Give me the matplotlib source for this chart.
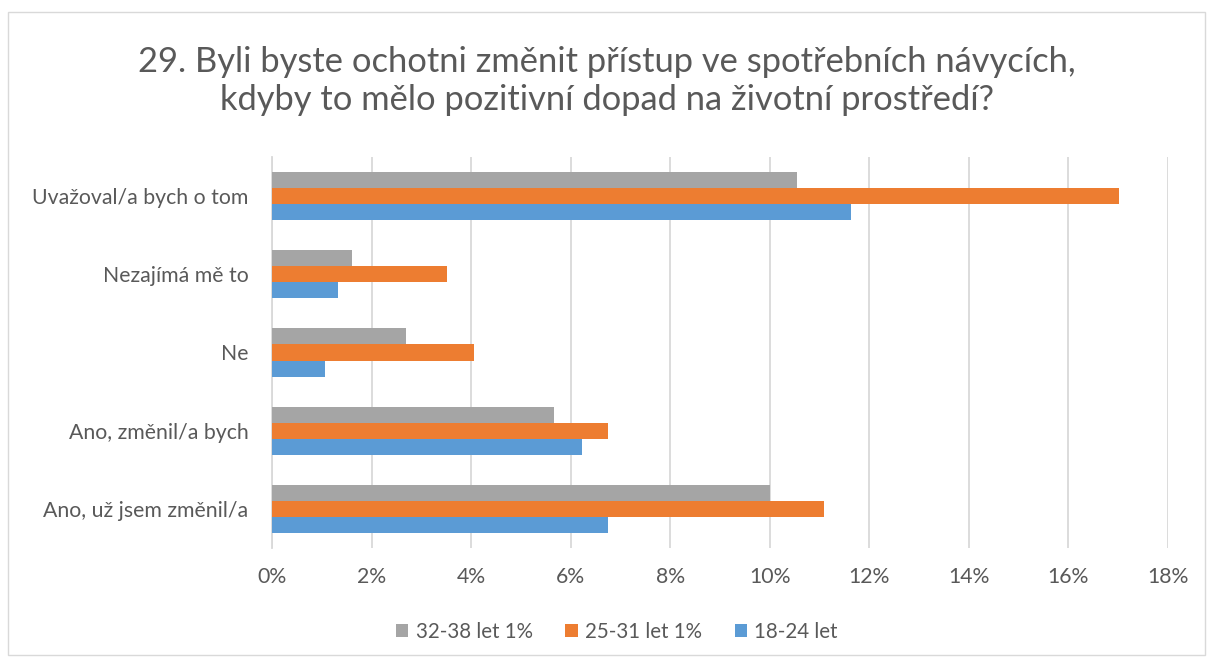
import matplotlib
matplotlib.use("Agg")
import matplotlib.pyplot as plt
from matplotlib.patches import Rectangle
import numpy as np

plt.rcParams['font.family'] = ['Lato', 'DejaVu Sans']

categories = ["Ano, už jsem změnil/a", "Ano, změnil/a bych", "Ne",
              "Nezajímá mě to", "Uvažoval/a bych o tom"]
series_names = ["32-38 let 1%", "25-31 let 1%", "18-24 let"]
s_32_38 = [10.0, 5.67, 2.70, 1.60, 10.55]
s_25_31 = [11.09, 6.75, 4.05, 3.51, 17.02]
s_18_24 = [6.75, 6.22, 1.07, 1.33, 11.63]
colors = ["#A5A5A5", "#ED7D31", "#5B9BD5"]
xticks = [0, 2, 4, 6, 8, 10, 12, 14, 16, 18]
title = "29. Byli byste ochotni změnit přístup ve spotřebních návycích,\nkdyby to mělo pozitivní dopad na životní prostředí?"

fig = plt.figure(figsize=(12.14, 6.62), dpi=100)
fig.patches.append(Rectangle((8/1214, 1-655/662), (1205-8)/1214, (655-12)/662,
                             transform=fig.transFigure, fill=False,
                             edgecolor="#D9D9D9", linewidth=1.0))
ax = fig.add_axes([272/1214, 1-548/662, (1168-272)/1214, (548-157)/662])

y = np.arange(len(categories))
h = 0.205
for vals, off, c, name in zip([s_32_38, s_25_31, s_18_24], [h, 0, -h], colors, series_names):
    ax.barh(y + off, vals, height=h, color=c, label=name, zorder=3)

ax.set_xlim(0, 18)
ax.set_ylim(-0.5, 4.5)
ax.set_xticks(xticks)
ax.set_xticklabels([f"{t}%" for t in xticks])
ax.set_yticks(y)
ax.set_yticklabels(categories)
ax.tick_params(axis='both', length=0, labelsize=15.3, colors="#595959")
ax.tick_params(axis='x', pad=14)
ax.tick_params(axis='y', pad=17)
ax.grid(axis='x', color="#D9D9D9", linewidth=1.3, zorder=0)
for s in ['top', 'right', 'bottom']:
    ax.spines[s].set_visible(False)
ax.spines['left'].set_color("#D9D9D9")
ax.spines['left'].set_linewidth(1.3)

fig.text(0.5, 1-81/662, title, ha='center', va='center', fontsize=24.8,
         color="#595959", linespacing=1.25)

handles, labels = ax.get_legend_handles_labels()
leg = fig.legend(handles, labels, loc='center', bbox_to_anchor=(617/1214, 1-632/662),
                 ncol=3, frameon=False, fontsize=14.8, handlelength=0.6, handleheight=0.6,
                 columnspacing=1.6, handletextpad=0.35)
for t in leg.get_texts():
    t.set_color("#595959")

fig.savefig("out.png", dpi=100)
